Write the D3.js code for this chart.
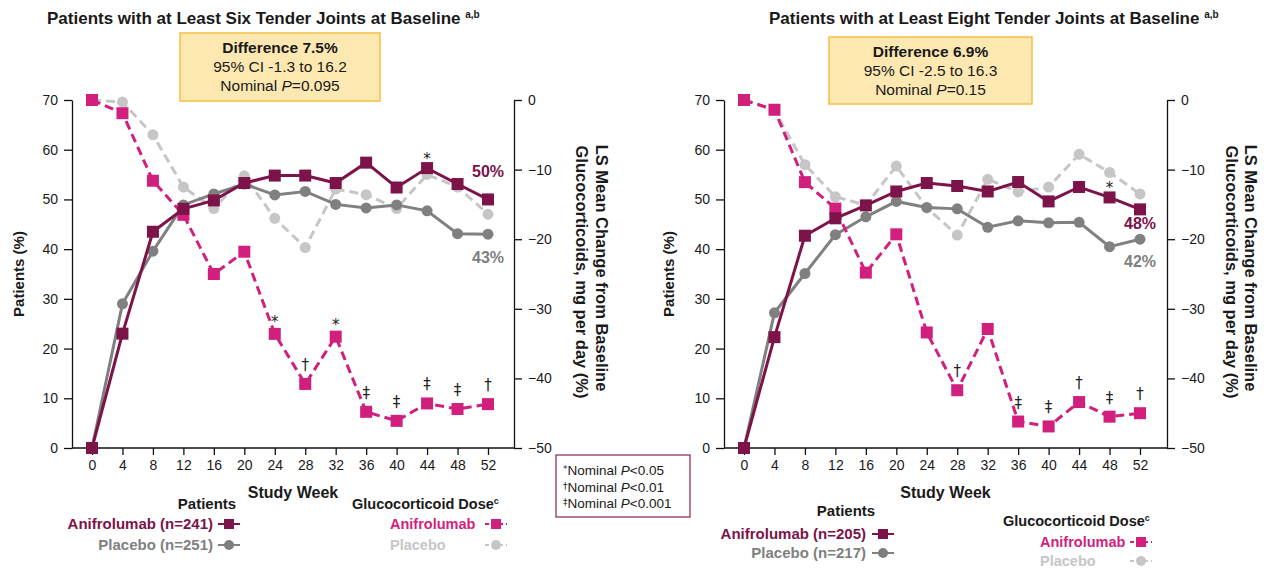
<!DOCTYPE html>
<html>
<head>
<meta charset="utf-8">
<script src="https://cdn.jsdelivr.net/npm/d3@7"></script>
<style>
  body { margin: 0; background: #fff; }
  svg { display: block; font-family: "Liberation Sans", Arial, sans-serif; }
</style>
</head>
<body>
<svg id="chart" width="1269" height="569"></svg>
<script>
// ---- Shared axes ----
const weeks = [0, 4, 8, 12, 16, 20, 24, 28, 32, 36, 40, 44, 48, 52];
const patientTicks = [0, 10, 20, 30, 40, 50, 60, 70];
const doseTicks = [0, -10, -20, -30, -40, -50];

// ---- Patients with at least six tender joints ----
const sixPatientsAnif = [0, 23.0, 43.5, 48.1, 49.8, 53.3, 54.8, 54.8, 53.3, 57.4, 52.4, 56.3, 53.1, 50];
const sixPatientsPlacebo = [0, 29.0, 39.6, 48.9, 51.1, 53.1, 50.9, 51.6, 49.0, 48.3, 48.9, 47.7, 43.1, 43];
const sixDoseAnif = [0, -1.9, -11.6, -16.5, -25.0, -21.8, -33.6, -40.8, -34.0, -44.8, -46.1, -43.6, -44.4, -43.7];
const sixDosePlacebo = [0, -0.3, -5.0, -12.5, -15.6, -10.9, -17.0, -21.2, -12.8, -13.6, -15.6, -10.7, -12.5, -16.4];
const sixDoseSig = ["", "", "", "", "", "", "*", "†", "*", "‡", "‡", "‡", "‡", "†"];
const sixPatientSig = ["", "", "", "", "", "", "", "", "", "", "", "*", "", ""];

// ---- Patients with at least eight tender joints ----
const eightPatientsAnif = [0, 22.3, 42.7, 46.2, 48.8, 51.6, 53.3, 52.7, 51.6, 53.5, 49.6, 52.5, 50.4, 48];
const eightPatientsPlacebo = [0, 27.2, 35.1, 42.9, 46.5, 49.6, 48.4, 48.1, 44.4, 45.7, 45.3, 45.4, 40.5, 42];
const eightDoseAnif = [0, -1.4, -11.8, -15.6, -24.8, -19.3, -33.4, -41.7, -32.9, -46.2, -46.9, -43.4, -45.5, -45.0];
const eightDosePlacebo = [0, -1.5, -9.3, -13.9, -15.1, -9.5, -15.5, -19.4, -11.4, -13.2, -12.5, -7.8, -10.4, -13.5];
const eightDoseSig = ["", "", "", "", "", "", "", "†", "", "‡", "‡", "†", "‡", "†"];
const eightPatientSig = ["", "", "", "", "", "", "", "", "", "", "", "", "*", ""];

// ---- Panel texts ----
const titles = ["Patients with at Least Six Tender Joints at Baseline", "Patients with at Least Eight Tender Joints at Baseline"];
const differences = ["Difference 7.5%", "Difference 6.9%"];
const intervals = ["95% CI -1.3 to 16.2", "95% CI -2.5 to 16.3"];
const pValues = ["=0.095", "=0.15"];
const anifLegend = ["Anifrolumab (n=241)", "Anifrolumab (n=205)"];
const placeboLegend = ["Placebo (n=251)", "Placebo (n=217)"];

const colors = {
  patAnif: "#7c1349",
  patPlacebo: "#808080",
  doseAnif: "#d11f7e",
  dosePlacebo: "#c6c6c6",
  text: "#1a1a1a",
  boxFill: "#fde8b1",
  boxStroke: "#f3c043"
};
const symbolFont = "'DejaVu Sans', 'Liberation Sans', sans-serif";

const svg = d3.select("#chart");

// Layout of each panel
const panels = [
  {
    axisL: 72, axisR: 514, x0: 92, x1: 488,
    titleX: 47, titleY: 24,
    box: { x: 180, y: 33, w: 200, h: 68 },
    yLabelX: 18, rLabel1X: 602, rLabel2X: 582,
    anifEndDy: -28, placeboEndDy: 23,
    legend: { patCenter: 207, patY: 509, rowEnd: 213, row1: 529, row2: 550, markX: 218,
              doseX: 352, doseY: 509, doseText: 390, drow1: 529, drow2: 550, dmarkX: 485 },
    patientsAnif: sixPatientsAnif, patientsPlacebo: sixPatientsPlacebo,
    doseAnif: sixDoseAnif, dosePlacebo: sixDosePlacebo,
    doseSig: sixDoseSig, patientSig: sixPatientSig
  },
  {
    axisL: 724, axisR: 1167, x0: 744, x1: 1140,
    titleX: 769, titleY: 24,
    box: { x: 829, y: 37, w: 203, h: 67 },
    yLabelX: 668, rLabel1X: 1251, rLabel2X: 1232,
    anifEndDy: 14, placeboEndDy: 22,
    legend: { patCenter: 846, patY: 516, rowEnd: 866, row1: 539, row2: 558, markX: 872,
              doseX: 1003, doseY: 526, doseText: 1040, drow1: 547, drow2: 566, dmarkX: 1130 },
    patientsAnif: eightPatientsAnif, patientsPlacebo: eightPatientsPlacebo,
    doseAnif: eightDoseAnif, dosePlacebo: eightDosePlacebo,
    doseSig: eightDoseSig, patientSig: eightPatientSig
  }
];

const yTop = 100, yBottom = 448;
const squareSize = 12, circleR = 5.5;

function squareMarks(g, data, x, y, color) {
  g.selectAll(null).data(data).join("rect")
    .attr("x", d => x(d.w) - squareSize / 2)
    .attr("y", d => y(d.v) - squareSize / 2)
    .attr("width", squareSize).attr("height", squareSize)
    .attr("fill", color);
}
function circleMarks(g, data, x, y, color) {
  g.selectAll(null).data(data).join("circle")
    .attr("cx", d => x(d.w)).attr("cy", d => y(d.v))
    .attr("r", circleR).attr("fill", color);
}

function drawPanel(p, i) {
  const g = svg.append("g");
  const x = d3.scaleLinear().domain([0, 52]).range([p.x0, p.x1]);
  const yL = d3.scaleLinear().domain([0, 70]).range([yBottom, yTop]);
  const yR = d3.scaleLinear().domain([-50, 0]).range([yBottom, yTop]);

  // Title with superscript
  const t = g.append("text").attr("x", p.titleX).attr("y", p.titleY)
    .attr("font-size", 17).attr("font-weight", "bold").attr("fill", colors.text);
  t.append("tspan").text(titles[i] + " ");
  t.append("tspan").text("a,b").attr("font-size", 10).attr("dy", -6);

  // Difference box
  const b = p.box;
  g.append("rect").attr("x", b.x).attr("y", b.y).attr("width", b.w).attr("height", b.h)
    .attr("fill", colors.boxFill).attr("stroke", colors.boxStroke).attr("stroke-width", 1.5);
  const cx = b.x + b.w / 2;
  g.append("text").attr("x", cx).attr("y", b.y + 20).attr("text-anchor", "middle")
    .attr("font-size", 15.5).attr("font-weight", "bold").attr("fill", colors.text).text(differences[i]);
  g.append("text").attr("x", cx).attr("y", b.y + 39).attr("text-anchor", "middle")
    .attr("font-size", 15.5).attr("fill", colors.text).text(intervals[i]);
  const pv = g.append("text").attr("x", cx).attr("y", b.y + 58).attr("text-anchor", "middle")
    .attr("font-size", 15.5).attr("fill", colors.text);
  pv.append("tspan").text("Nominal ");
  pv.append("tspan").attr("font-style", "italic").text("P");
  pv.append("tspan").text(pValues[i]);

  // Axes
  const axL = g.append("g").attr("transform", `translate(${p.axisL},0)`)
    .call(d3.axisLeft(yL).tickValues(patientTicks).tickSize(8).tickSizeOuter(0).tickPadding(6));
  const axR = g.append("g").attr("transform", `translate(${p.axisR},0)`)
    .call(d3.axisRight(yR).tickValues(doseTicks).tickSize(8).tickSizeOuter(0).tickPadding(6));
  const axB = g.append("g").attr("transform", `translate(0,${yBottom})`)
    .call(d3.axisBottom(x).tickValues(weeks).tickSize(7).tickSizeOuter(0).tickPadding(5));
  axB.select(".domain").remove();
  g.append("line").attr("x1", p.axisL).attr("x2", p.axisR).attr("y1", yBottom).attr("y2", yBottom)
    .attr("stroke", "#111").attr("stroke-width", 1.3);
  [axL, axR, axB].forEach(a => {
    a.selectAll("text").attr("font-size", 14).attr("fill", colors.text)
      .attr("font-family", "'Liberation Sans', Arial, sans-serif");
    a.selectAll("line, path").attr("stroke", "#111").attr("stroke-width", 1.3);
  });

  // Axis titles
  g.append("text").attr("transform", `translate(${p.yLabelX},274) rotate(-90)`)
    .attr("text-anchor", "middle").attr("dominant-baseline", "central")
    .attr("font-size", 15).attr("font-weight", "bold").attr("fill", colors.text).text("Patients (%)");
  g.append("text").attr("transform", `translate(${p.rLabel1X},268) rotate(90)`)
    .attr("text-anchor", "middle").attr("dominant-baseline", "central")
    .attr("font-size", 16.5).attr("font-weight", "bold").attr("fill", colors.text).text("LS Mean Change from Baseline");
  g.append("text").attr("transform", `translate(${p.rLabel2X},272) rotate(90)`)
    .attr("text-anchor", "middle").attr("dominant-baseline", "central")
    .attr("font-size", 16.5).attr("font-weight", "bold").attr("fill", colors.text).text("Glucocorticoids, mg per day (%)");
  g.append("text").attr("x", (p.axisL + p.axisR) / 2).attr("y", 498).attr("text-anchor", "middle")
    .attr("font-size", 16).attr("font-weight", "bold").attr("fill", colors.text).text("Study Week");

  const toPts = arr => arr.map((v, k) => ({ w: weeks[k], v }));
  const dosePlac = toPts(p.dosePlacebo), doseAnif = toPts(p.doseAnif);
  const patPlac = toPts(p.patientsPlacebo), patAnif = toPts(p.patientsAnif);

  const lineL = d3.line().x(d => x(d.w)).y(d => yL(d.v));
  const lineR = d3.line().x(d => x(d.w)).y(d => yR(d.v));

  // Glucocorticoid dose, placebo
  g.append("path").attr("d", lineR(dosePlac)).attr("fill", "none")
    .attr("stroke", colors.dosePlacebo).attr("stroke-width", 3).attr("stroke-dasharray", "9,5");
  circleMarks(g, dosePlac, x, yR, colors.dosePlacebo);

  // Patients, placebo
  g.append("path").attr("d", lineL(patPlac)).attr("fill", "none")
    .attr("stroke", colors.patPlacebo).attr("stroke-width", 3);
  circleMarks(g, patPlac, x, yL, colors.patPlacebo);

  // Glucocorticoid dose, anifrolumab
  g.append("path").attr("d", lineR(doseAnif)).attr("fill", "none")
    .attr("stroke", colors.doseAnif).attr("stroke-width", 3).attr("stroke-dasharray", "9,5");
  squareMarks(g, doseAnif, x, yR, colors.doseAnif);

  // Patients, anifrolumab
  g.append("path").attr("d", lineL(patAnif)).attr("fill", "none")
    .attr("stroke", colors.patAnif).attr("stroke-width", 3);
  squareMarks(g, patAnif, x, yL, colors.patAnif);

  // Significance marks
  const sigOffset = s => (s === "*" ? -7 : -14);
  g.selectAll(null).data(doseAnif.map((d, k) => ({ ...d, s: p.doseSig[k] })).filter(d => d.s))
    .join("text")
    .attr("x", d => x(d.w)).attr("y", d => yR(d.v) + sigOffset(d.s))
    .attr("text-anchor", "middle").attr("font-family", symbolFont)
    .attr("font-size", 15).attr("fill", "#222").text(d => d.s);
  g.selectAll(null).data(patAnif.map((d, k) => ({ ...d, s: p.patientSig[k] })).filter(d => d.s))
    .join("text")
    .attr("x", d => x(d.w)).attr("y", d => yL(d.v) - 4)
    .attr("text-anchor", "middle").attr("font-family", symbolFont)
    .attr("font-size", 15).attr("fill", "#222").text(d => d.s);

  // End-of-study value labels
  const lastA = patAnif[patAnif.length - 1], lastP = patPlac[patPlac.length - 1];
  g.append("text").attr("x", x(lastA.w)).attr("y", yL(lastA.v) + p.anifEndDy)
    .attr("text-anchor", "middle").attr("dominant-baseline", "central")
    .attr("font-size", 16).attr("font-weight", "bold").attr("fill", colors.patAnif)
    .text(d3.format(".0f")(lastA.v) + "%");
  g.append("text").attr("x", x(lastP.w)).attr("y", yL(lastP.v) + p.placeboEndDy)
    .attr("text-anchor", "middle").attr("dominant-baseline", "central")
    .attr("font-size", 16).attr("font-weight", "bold").attr("fill", colors.patPlacebo)
    .text(d3.format(".0f")(lastP.v) + "%");

  // Legend
  const L = p.legend;
  g.append("text").attr("x", L.patCenter).attr("y", L.patY).attr("text-anchor", "middle")
    .attr("font-size", 15).attr("font-weight", "bold").attr("fill", colors.text).text("Patients");
  g.append("text").attr("x", L.rowEnd).attr("y", L.row1).attr("text-anchor", "end")
    .attr("font-size", 15).attr("font-weight", "bold").attr("fill", colors.patAnif).text(anifLegend[i]);
  g.append("text").attr("x", L.rowEnd).attr("y", L.row2).attr("text-anchor", "end")
    .attr("font-size", 15).attr("font-weight", "bold").attr("fill", colors.patPlacebo).text(placeboLegend[i]);
  const dt = g.append("text").attr("x", L.doseX).attr("y", L.doseY)
    .attr("font-size", 14.5).attr("font-weight", "bold").attr("fill", colors.text);
  dt.append("tspan").text("Glucocorticoid Dose");
  dt.append("tspan").attr("font-size", 9).attr("dy", -5).text("c");
  g.append("text").attr("x", L.doseText).attr("y", L.drow1)
    .attr("font-size", 14.5).attr("font-weight", "bold").attr("fill", colors.doseAnif).text("Anifrolumab");
  g.append("text").attr("x", L.doseText).attr("y", L.drow2)
    .attr("font-size", 14.5).attr("font-weight", "bold").attr("fill", colors.dosePlacebo).text("Placebo");

  const legendKey = (x0, yc, color, dashed, square) => {
    g.append("line").attr("x1", x0).attr("x2", x0 + 22).attr("y1", yc).attr("y2", yc)
      .attr("stroke", color).attr("stroke-width", 2).attr("stroke-dasharray", dashed ? "4,3" : null);
    if (square) g.append("rect").attr("x", x0 + 6).attr("y", yc - 5).attr("width", 10).attr("height", 10).attr("fill", color);
    else g.append("circle").attr("cx", x0 + 11).attr("cy", yc).attr("r", 5).attr("fill", color);
  };
  legendKey(L.markX, L.row1 - 5, colors.patAnif, false, true);
  legendKey(L.markX, L.row2 - 5, colors.patPlacebo, false, false);
  legendKey(L.dmarkX, L.drow1 - 5, colors.doseAnif, true, true);
  legendKey(L.dmarkX, L.drow2 - 5, colors.dosePlacebo, true, false);
}

panels.forEach(drawPanel);

// Significance key
const key = svg.append("g");
key.append("rect").attr("x", 556).attr("y", 455).attr("width", 134).attr("height", 62)
  .attr("fill", "#fff").attr("stroke", "#8b2252").attr("stroke-width", 1.2);
const keyRows = [["*", "<0.05"], ["†", "<0.01"], ["‡", "<0.001"]];
keyRows.forEach((r, k) => {
  const tx = key.append("text").attr("x", 563).attr("y", 475 + k * 16.5)
    .attr("font-size", 13.5).attr("fill", colors.text);
  tx.append("tspan").attr("font-size", 9).attr("dy", -3).attr("font-family", symbolFont).text(r[0]);
  tx.append("tspan").attr("dy", 3).text("Nominal ");
  tx.append("tspan").attr("font-style", "italic").text("P");
  tx.append("tspan").text(r[1]);
});
</script>
</body>
</html>
